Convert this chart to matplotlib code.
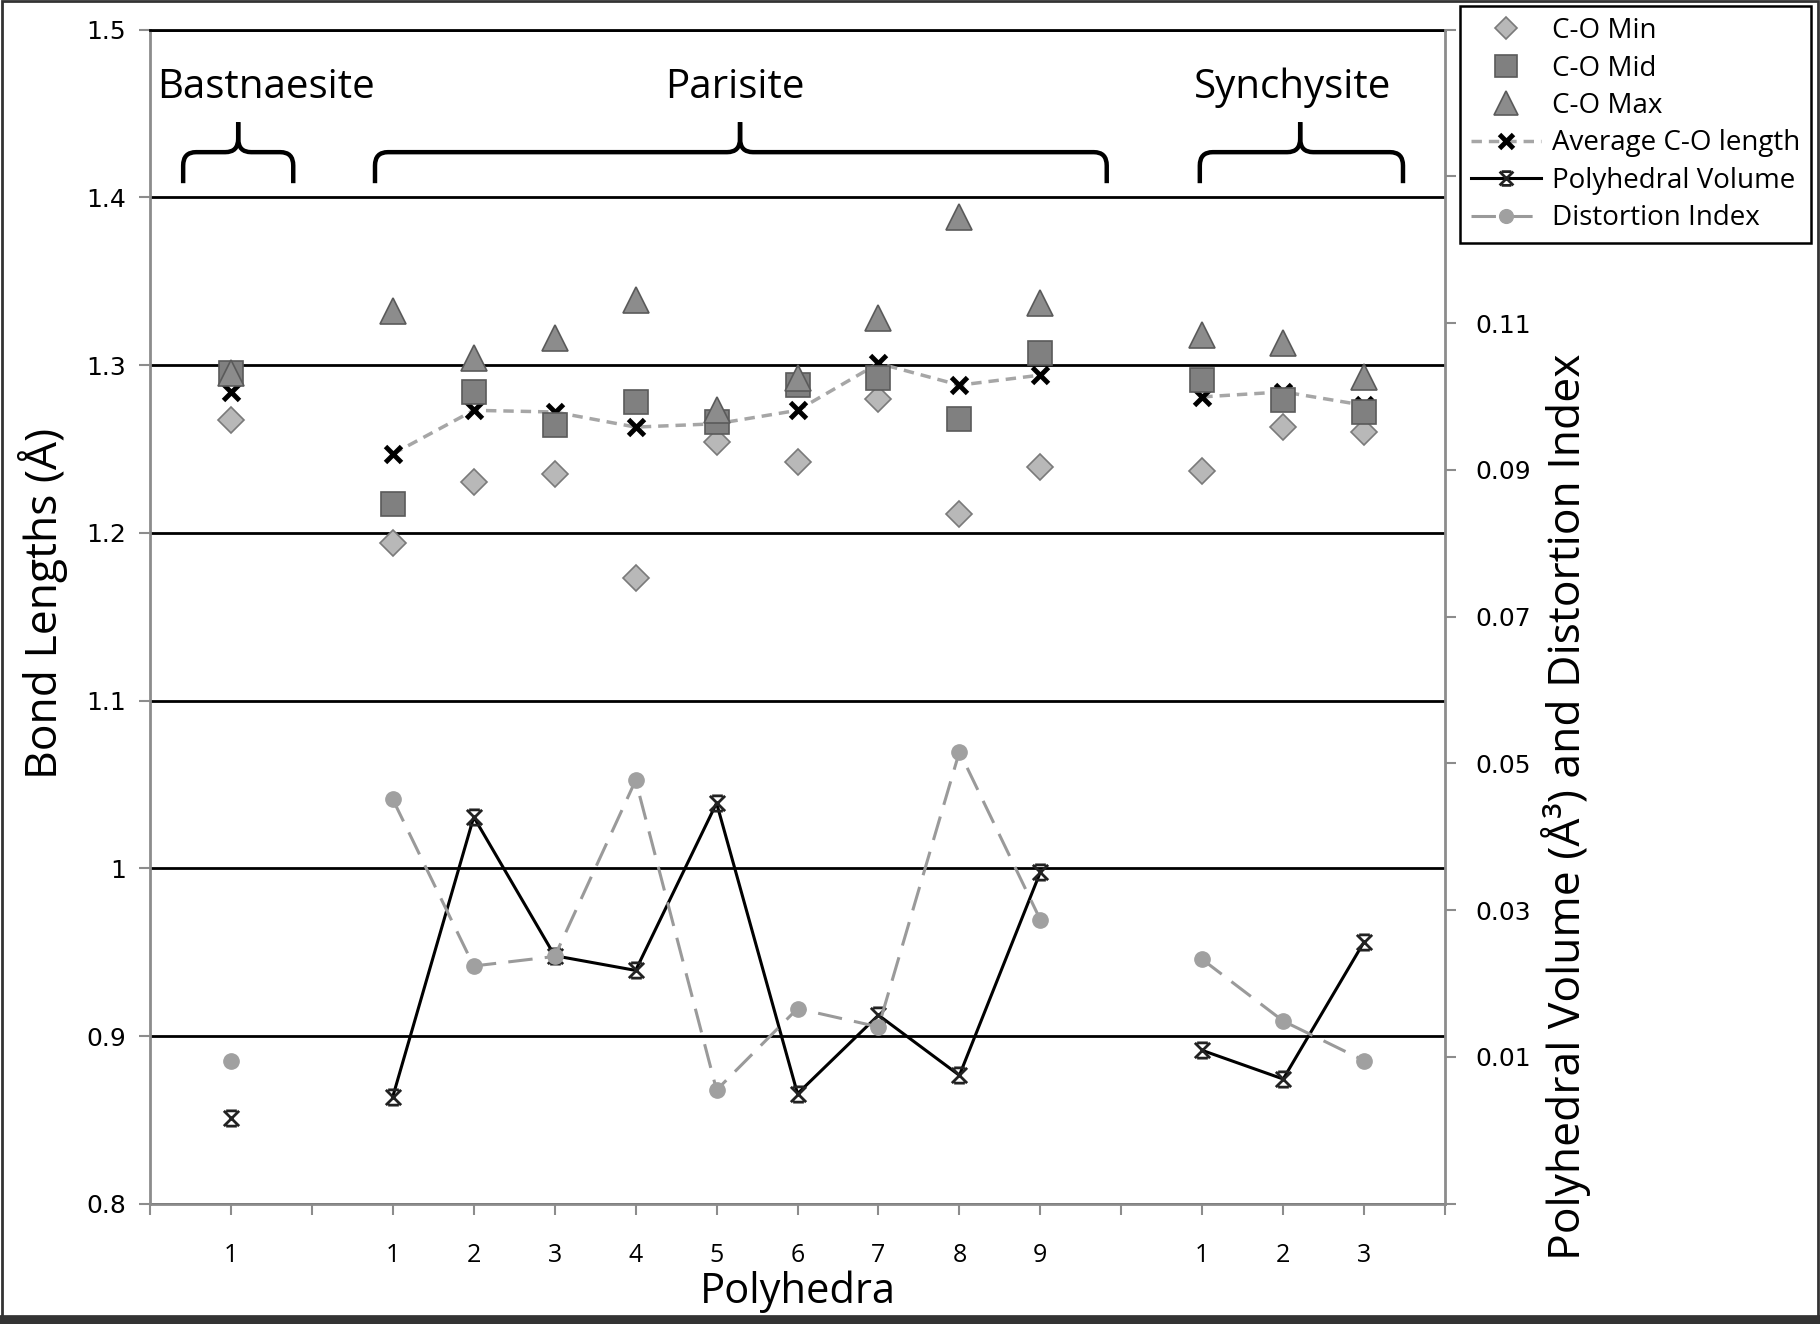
import numpy as np
import matplotlib
matplotlib.use("Agg")
import matplotlib.pyplot as plt
from matplotlib.path import Path
from matplotlib.patches import PathPatch, Rectangle
from matplotlib.lines import Line2D

plt.rcParams['font.family'] = ['Open Sans', 'DejaVu Sans']

nan = np.nan

# category slots: Bastnaesite 1, gap, Parisite 1-9, gap, Synchysite 1-3
tick_labels = ["1", "", "1", "2", "3", "4", "5", "6", "7", "8", "9", "", "1", "2", "3"]
groups = ["Bastnaesite", "Parisite", "Synchysite"]

co_min = [1.267, nan, 1.194, 1.230, 1.235, 1.173, 1.254, 1.242, 1.280, 1.211, 1.239, nan, 1.237, 1.263, 1.260]
co_mid = [1.295, nan, 1.217, 1.284, 1.264, 1.278, 1.266, 1.288, 1.292, 1.268, 1.307, nan, 1.291, 1.279, 1.272]
co_max = [1.295, nan, 1.332, 1.304, 1.316, 1.339, 1.273, 1.292, 1.328, 1.388, 1.337, nan, 1.318, 1.313, 1.293]
co_avg = [1.284, nan, 1.247, 1.273, 1.272, 1.263, 1.265, 1.273, 1.301, 1.288, 1.294, nan, 1.281, 1.284, 1.276]
poly_vol = [0.0017, nan, 0.0046, 0.0427, 0.0238, 0.0218, 0.0446, 0.0050, 0.0157, 0.0075, 0.0352, nan, 0.0109, 0.0070, 0.0257]
dist_idx = [0.0094, nan, 0.0451, 0.0224, 0.0237, 0.0477, 0.0055, 0.0166, 0.0141, 0.0516, 0.0287, nan, 0.0233, 0.0149, 0.0095]

left_ticks = [0.8, 0.9, 1.0, 1.1, 1.2, 1.3, 1.4, 1.5]
left_labels = ["0.8", "0.9", "1", "1.1", "1.2", "1.3", "1.4", "1.5"]
right_ticks = [-0.01, 0.01, 0.03, 0.05, 0.07, 0.09, 0.11, 0.13, 0.15]
right_labels = ["", "0.01", "0.03", "0.05", "0.07", "0.09", "0.11", "", ""]

# brace spans (x start, x end, tip) and group label x
brace_spans = [(0.41, 1.77, 1.09), (2.78, 11.82, 7.29), (12.97, 15.48, 14.21)]
group_x = [1.43, 7.23, 14.12]

x = np.arange(1, len(tick_labels) + 1)
axis_grey = "#8c8c8c"

# excel-like star marker: an X with short bars on top and bottom
star = Path([(-1, -1), (1, 1), (-1, 1), (1, -1), (-0.7, 1), (0.7, 1), (-0.7, -1), (0.7, -1)],
            [Path.MOVETO, Path.LINETO] * 4)

fig = plt.figure(figsize=(18.2, 13.24), dpi=100)
ax = fig.add_axes([0.0824, 0.0908, 0.7116, 0.8869])
ax2 = ax.twinx()

ax.set_xlim(0, len(tick_labels) + 1)
ax.set_ylim(0.8, 1.5)
ax2.set_ylim(-0.01, 0.15)

ax.set_yticks(left_ticks)
ax.set_yticklabels(left_labels, family="DejaVu Sans")
ax2.set_yticks(right_ticks)
ax2.set_yticklabels(right_labels, family="DejaVu Sans")
ax.set_xticks(np.arange(0, len(tick_labels) + 2))
ax.set_xticklabels([""] + tick_labels + [""])

ax.yaxis.grid(True, color="black", lw=2)
ax.set_axisbelow(True)

# bond lengths
ax.plot(x, co_avg, ls=(0, (3, 2)), color="#a6a6a6", lw=2.5, marker="x", ms=11,
        mec="black", mew=3.5, zorder=3, label="Average C-O length")
ax.plot(x, co_min, ls="none", marker="D", ms=13, mfc="#b8b8b8", mec="#7a7a7a",
        mew=1.2, zorder=4, label="C-O Min")
ax.plot(x, co_mid, ls="none", marker="s", ms=17, mfc="#808080", mec="#5a5a5a",
        mew=1.2, zorder=5, label="C-O Mid")
ax.plot(x, co_max, ls="none", marker="^", ms=19, mfc="#8c8c8c", mec="#5a5a5a",
        mew=1.2, zorder=6, label="C-O Max")

# volume and distortion
ax2.plot(x, poly_vol, ls="-", color="black", lw=2.2, marker=star, ms=11,
         mec="#222222", mew=2, zorder=3, label="Polyhedral Volume")
ax2.plot(x, dist_idx, ls=(0, (8, 4)), color="#9a9a9a", lw=2.2, marker="o", ms=11,
         mfc="#a0a0a0", mec="#a0a0a0", zorder=4, label="Distortion Index")

# spines and ticks
for a in (ax, ax2):
    for s in a.spines.values():
        s.set_visible(False)
ax.spines["left"].set_visible(True)
ax.spines["bottom"].set_visible(True)
ax.spines["top"].set_visible(True)
ax2.spines["right"].set_visible(True)
ax.spines["left"].set_color(axis_grey)
ax.spines["bottom"].set_color(axis_grey)
ax2.spines["right"].set_color(axis_grey)
ax.spines["top"].set_color("black")
for s in ("left", "bottom", "top"):
    ax.spines[s].set_linewidth(2)
ax2.spines["right"].set_linewidth(2)

ax.tick_params(axis="y", length=8, width=1.5, color=axis_grey, pad=9, labelsize=18)
ax.tick_params(axis="x", length=8, width=1.5, color=axis_grey, pad=20, labelsize=18)
ax2.tick_params(axis="y", length=8, width=1.5, color=axis_grey, pad=14, labelsize=18)

ax.set_xlabel("Polyhedra", fontsize=30, labelpad=2)
ax.set_ylabel("Bond Lengths (Å)", fontsize=32)
ax.yaxis.set_label_coords(-0.0635, 0.511)
ax2.set_ylabel("Polyhedral Volume (Å³) and Distortion Index", fontsize=32, rotation=90)
ax2.yaxis.set_label_coords(1.074, 0.338)

# braces and group names
def brace(a, x0, x1, xt, yb=1.4084, yh=1.4269, yt=1.4448, rx=0.16, ry=0.008):
    for xe, sgn in ((x0, 1), (x1, -1)):
        verts = [(xe, yb), (xe, yh - ry), (xe, yh), (xe + sgn * rx, yh),
                 (xt - sgn * rx, yh), (xt, yh), (xt, yh + ry), (xt, yt)]
        codes = [Path.MOVETO, Path.LINETO, Path.CURVE3, Path.CURVE3,
                 Path.LINETO, Path.CURVE3, Path.CURVE3, Path.LINETO]
        a.add_patch(PathPatch(Path(verts, codes), fill=False, lw=3.2,
                              ec="black", capstyle="butt", zorder=7))

for (x0, x1, xt), gx, name in zip(brace_spans, group_x, groups):
    brace(ax, x0, x1, xt)
    ax.text(gx, 1.465, name, ha="center", va="center", fontsize=29, zorder=7)

# legend
h1, l1 = ax.get_legend_handles_labels()
h2, l2 = ax2.get_legend_handles_labels()
hd = dict(zip(l1 + l2, h1 + h2))
order = ["C-O Min", "C-O Mid", "C-O Max", "Average C-O length",
         "Polyhedral Volume", "Distortion Index"]
leg = fig.legend([hd[k] for k in order], order, loc="upper right",
                 bbox_to_anchor=(1811 / 1820, 1 - 6 / 1324), borderaxespad=0,
                 fontsize=20, frameon=True, fancybox=False, framealpha=1,
                 edgecolor="black", handlelength=2.5, handletextpad=0.4,
                 labelspacing=0.34, borderpad=0.4, markerscale=0.9)
leg.get_frame().set_linewidth(1.8)

# outer frame
fig.patches.append(Rectangle((0.001, 0.001), 0.998, 0.998, transform=fig.transFigure,
                             fill=False, ec="#333333", lw=2))
fig.lines.append(Line2D([0, 1], [0.003, 0.003], transform=fig.transFigure,
                        color="#333333", lw=7))

fig.savefig("out.png", dpi=100, facecolor="white")
